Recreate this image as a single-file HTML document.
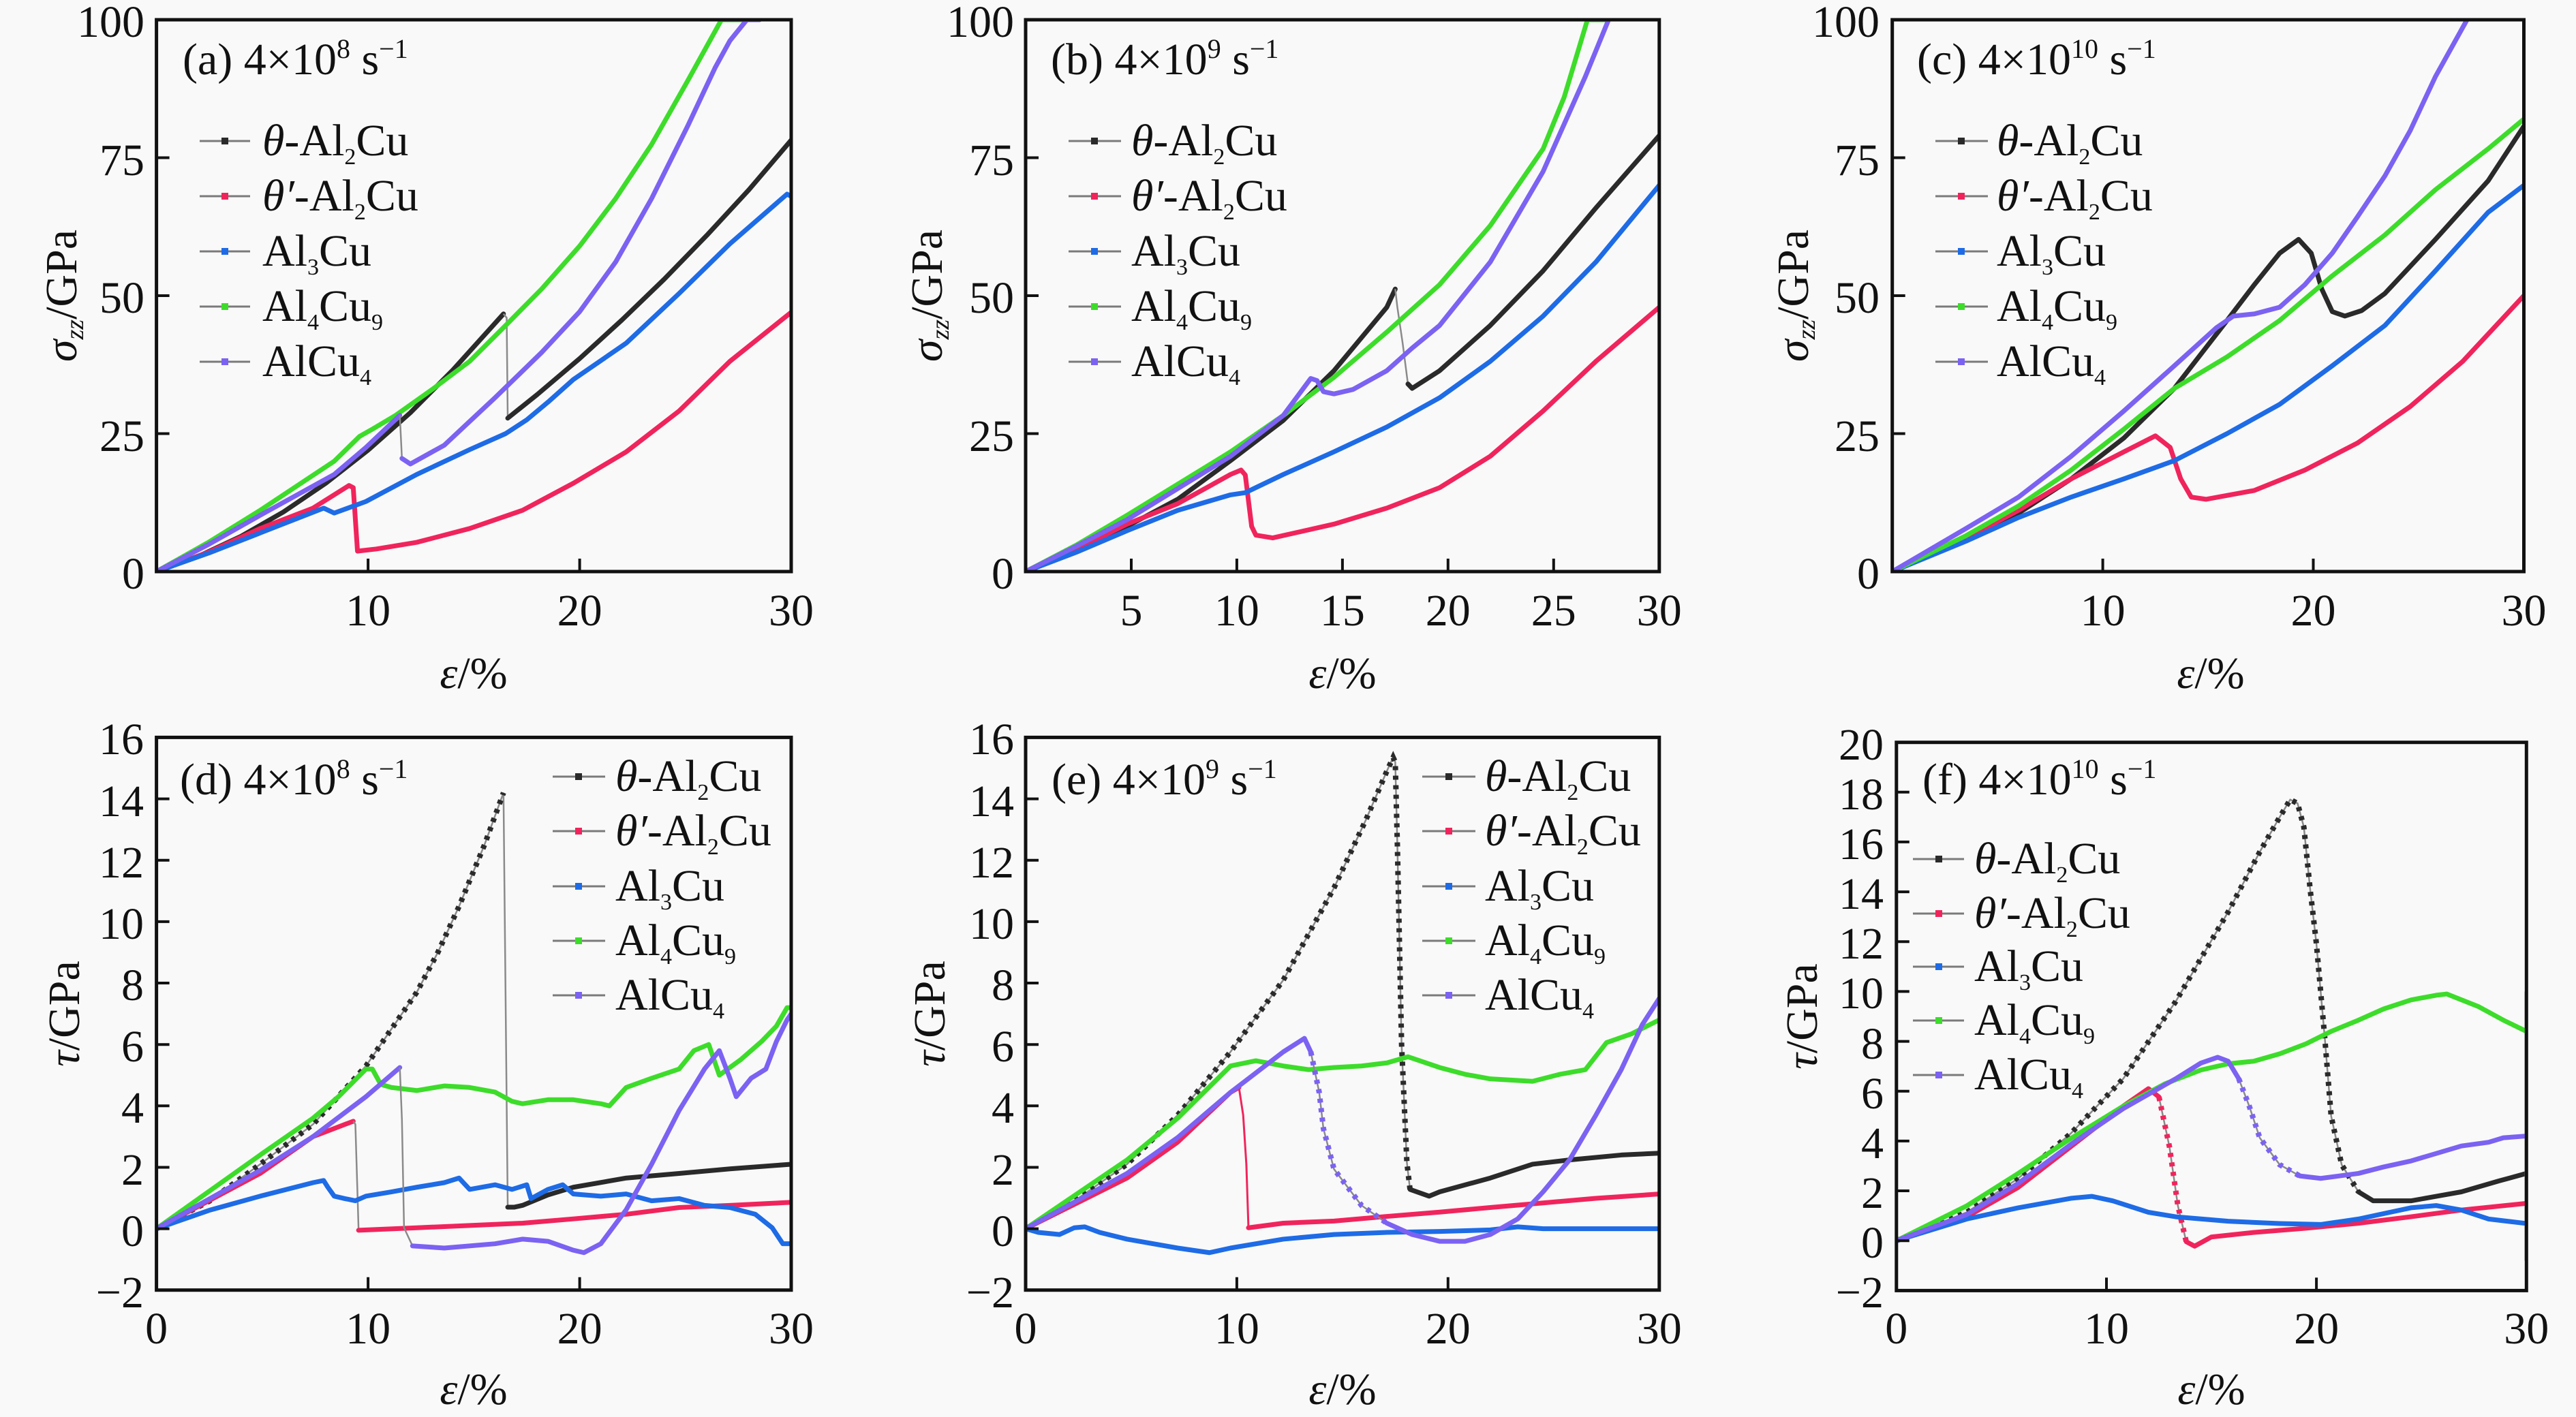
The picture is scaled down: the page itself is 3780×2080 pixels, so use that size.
<!DOCTYPE html>
<html><head><meta charset="utf-8"><style>
html,body{margin:0;padding:0;background:#f9f9f9;overflow:hidden}
svg{display:block}
text{font-family:"Liberation Serif","Times New Roman",serif;fill:#111}
.c{fill:none;stroke-width:7;vector-effect:non-scaling-stroke;stroke-linejoin:round;stroke-linecap:round}
.th{fill:none;stroke:#8a8a8a;stroke-width:2.5;vector-effect:non-scaling-stroke}
.dd{fill:none;stroke-width:8;stroke-dasharray:6 8;vector-effect:non-scaling-stroke}
.k{stroke:#2a2a2a}.r{stroke:#f0245c}.b{stroke:#1e6be6}.g{stroke:#3ddc2a}.p{stroke:#7c62f2}
.fr{fill:none;stroke:#111;stroke-width:5}
.tk{fill:none;stroke:#111;stroke-width:4}
.lg{stroke:#7a7a7a;stroke-width:3}
</style></head><body>
<svg width="3780" height="2080" viewBox="0 0 3780 2080" xmlns="http://www.w3.org/2000/svg">
<rect width="3780" height="2080" fill="#f9f9f9"/>
<defs>
<clipPath id="cA"><rect x="229.6" y="29" width="931.4" height="810"/></clipPath>
<clipPath id="cB"><rect x="1505" y="29" width="929.8" height="810"/></clipPath>
<clipPath id="cC"><rect x="2776.7" y="29" width="926.8" height="810"/></clipPath>
<clipPath id="cD"><rect x="229.6" y="1082.4" width="931.4" height="811.3"/></clipPath>
<clipPath id="cE"><rect x="1505" y="1082.4" width="929.8" height="811.3"/></clipPath>
<clipPath id="cF"><rect x="2782.8" y="1089.7" width="924.5" height="804.7"/></clipPath>
</defs>

<!-- Panel A -->
<g clip-path="url(#cA)"><g transform="translate(229.6,839) scale(31.05,-8.1)">
<polyline class="c k" points="0,0 2,2.8 4,6.4 6,10.8 8,16 10,22 12,28.8 14,36.5 16.4,46.7"/>
<polyline class="th" points="16.4,46.7 16.55,46 16.6,27.8"/>
<polyline class="c k" points="16.6,27.8 18,32.1 20,38.6 22,45.6 24,53 26,60.9 28,69.2 30,78.2"/>
<polyline class="c r" points="0,0 2.5,3.6 4.9,7.8 7.4,11.5 9.1,15.6 9.3,15.2 9.5,3.7 10.4,4.1 12.3,5.3 14.8,7.8 17.3,11.1 19.7,16 22.2,21.7 24.7,29.1 27.1,38.1 30,47"/>
<polyline class="c b" points="0,0 2.5,3.4 4.9,7 7.9,11.5 8.4,10.6 9.9,12.7 12.3,17.6 14.8,22.1 16.5,25 17.5,27.5 18.5,30.7 19.7,34.8 22.2,41.4 24.7,50.4 27.1,59.4 29.8,68.4 30,68"/>
<polyline class="c g" points="0,0 2.5,5.4 4.9,11.1 8.4,20 9.6,24.5 10.2,25.8 11.3,28.3 13.1,33.2 14.8,38.1 16.5,44.6 18.2,51.2 20,59 21.7,67.6 23.4,77.4 25.1,88.9 26.7,100 27.9,100"/>
<polyline class="c p" points="0,0 2.5,5 4.9,10.2 8.4,17.6 9.9,22.5 11.5,28.3"/>
<polyline class="th" points="11.5,28.3 11.6,20.5"/>
<polyline class="c p" points="11.6,20.5 12,19.5 13.6,22.9 16,31.5 18.2,39.7 20,47.1 21.7,56.1 23.4,67.6 25.1,80.7 26.4,91.3 27.1,96.2 27.9,100 28.5,100"/>
</g></g>
<rect class="fr" x="229.6" y="29" width="931.4" height="810"/>
<path class="tk" d="M540.1 839v-19M850.6 839v-19M229.6 636.5h19M229.6 434h19M229.6 231.5h19"/>
<g font-size="66" text-anchor="end">
<text x="212" y="54">100</text><text x="212" y="257">75</text><text x="212" y="459">50</text><text x="212" y="662">25</text><text x="212" y="864">0</text>
</g>
<g font-size="66" text-anchor="middle">
<text x="540.1" y="918">10</text><text x="850.6" y="918">20</text><text x="1161" y="918">30</text>
<text x="695" y="1010"><tspan font-style="italic">ε</tspan>/%</text>
</g>
<text transform="translate(112,434) rotate(-90)" font-size="66" text-anchor="middle"><tspan font-style="italic">σ</tspan><tspan font-size="38" font-style="italic" dy="10">zz</tspan><tspan dy="-10">/GPa</tspan></text>
<text x="268" y="109" font-size="66">(a) 4×10<tspan font-size="40" dy="-24">8</tspan><tspan dy="24"> s</tspan><tspan font-size="40" dy="-24">−1</tspan></text>
<g>
<line class="lg" x1="293" y1="207" x2="367" y2="207"/><rect x="325" y="202" width="10" height="10" fill="#2a2a2a"/>
<line class="lg" x1="293" y1="288" x2="367" y2="288"/><rect x="325" y="283" width="10" height="10" fill="#f0245c"/>
<line class="lg" x1="293" y1="369" x2="367" y2="369"/><rect x="325" y="364" width="10" height="10" fill="#1e6be6"/>
<line class="lg" x1="293" y1="450" x2="367" y2="450"/><rect x="325" y="445" width="10" height="10" fill="#3ddc2a"/>
<line class="lg" x1="293" y1="531" x2="367" y2="531"/><rect x="325" y="526" width="10" height="10" fill="#7c62f2"/>
<g font-size="66">
<text x="385" y="228"><tspan font-style="italic">θ</tspan>-Al<tspan font-size="34" dy="13">2</tspan><tspan dy="-13">Cu</tspan></text>
<text x="385" y="309"><tspan font-style="italic">θ′</tspan>-Al<tspan font-size="34" dy="13">2</tspan><tspan dy="-13">Cu</tspan></text>
<text x="385" y="390">Al<tspan font-size="34" dy="13">3</tspan><tspan dy="-13">Cu</tspan></text>
<text x="385" y="471">Al<tspan font-size="34" dy="13">4</tspan><tspan dy="-13">Cu</tspan><tspan font-size="34" dy="13">9</tspan></text>
<text x="385" y="552">AlCu<tspan font-size="34" dy="13">4</tspan></text>
</g></g>

<!-- Panel B -->
<g clip-path="url(#cB)"><g transform="translate(1505,839) scale(30.993,-8.1)">
<polyline class="c k" points="0,0 2.4,3.8 4.8,8.2 7.2,13.1 9.7,20.1 12.2,27.4 14.6,36.4 17.1,47.9 17.5,51.2"/>
<polyline class="th" points="17.5,51.2 17.6,47.9 17.85,41.4 18.1,34 18.3,33.2"/>
<polyline class="c k" points="18.1,34 18.3,33.2 19.6,36.4 22,44.6 24.5,54.5 27,65.9 30,79"/>
<polyline class="c r" points="0,0 2.4,4 4.8,8.6 7.2,12.3 9.7,17.6 10.2,18.4 10.4,17.5 10.7,8.2 10.9,6.6 11.7,6.1 14.6,8.6 17.1,11.5 19.6,15.2 22,20.9 24.5,29.1 27,38.1 30,47.9"/>
<polyline class="c b" points="0,0 2.4,3.5 4.8,7.4 7.2,11.1 9.7,13.9 10.4,14.3 12.2,17.6 14.6,21.7 17.1,26.2 19.6,31.5 22,38.1 24.5,46.3 27,56.1 30,70"/>
<polyline class="c g" points="0,0 2.4,4.8 4.8,10.2 9.7,21.7 12.2,28.3 14.6,35.2 17.1,43.4 19.6,52 22,62.7 24.5,76.6 25.5,86 26.6,100 27.5,100"/>
<polyline class="c p" points="0,0 2.4,4.6 4.8,9.4 9.7,20.9 12.2,28.3 13.5,35 13.8,34.6 14.1,32.6 14.6,32.2 15.5,33 17.1,36.4 18.3,40.5 19.6,44.6 22,56.1 24.5,72.5 26.5,89.7 27.6,100"/>
</g></g>
<rect class="fr" x="1505" y="29" width="929.8" height="810"/>
<path class="tk" d="M1660 839v-19M1814.9 839v-19M1969.9 839v-19M2124.8 839v-19M2279.8 839v-19M1505 636.5h19M1505 434h19M1505 231.5h19"/>
<g font-size="66" text-anchor="end">
<text x="1488" y="54">100</text><text x="1488" y="257">75</text><text x="1488" y="459">50</text><text x="1488" y="662">25</text><text x="1488" y="864">0</text>
</g>
<g font-size="66" text-anchor="middle">
<text x="1660" y="918">5</text><text x="1814.9" y="918">10</text><text x="1969.9" y="918">15</text><text x="2124.8" y="918">20</text><text x="2279.8" y="918">25</text><text x="2434.8" y="918">30</text>
<text x="1970" y="1010"><tspan font-style="italic">ε</tspan>/%</text>
</g>
<text transform="translate(1382,434) rotate(-90)" font-size="66" text-anchor="middle"><tspan font-style="italic">σ</tspan><tspan font-size="38" font-style="italic" dy="10">zz</tspan><tspan dy="-10">/GPa</tspan></text>
<text x="1542" y="109" font-size="66">(b) 4×10<tspan font-size="40" dy="-24">9</tspan><tspan dy="24"> s</tspan><tspan font-size="40" dy="-24">−1</tspan></text>
<g>
<line class="lg" x1="1568" y1="207" x2="1645" y2="207"/><rect x="1601" y="202" width="10" height="10" fill="#2a2a2a"/>
<line class="lg" x1="1568" y1="288" x2="1645" y2="288"/><rect x="1601" y="283" width="10" height="10" fill="#f0245c"/>
<line class="lg" x1="1568" y1="369" x2="1645" y2="369"/><rect x="1601" y="364" width="10" height="10" fill="#1e6be6"/>
<line class="lg" x1="1568" y1="450" x2="1645" y2="450"/><rect x="1601" y="445" width="10" height="10" fill="#3ddc2a"/>
<line class="lg" x1="1568" y1="531" x2="1645" y2="531"/><rect x="1601" y="526" width="10" height="10" fill="#7c62f2"/>
<g font-size="66">
<text x="1660" y="228"><tspan font-style="italic">θ</tspan>-Al<tspan font-size="34" dy="13">2</tspan><tspan dy="-13">Cu</tspan></text>
<text x="1660" y="309"><tspan font-style="italic">θ′</tspan>-Al<tspan font-size="34" dy="13">2</tspan><tspan dy="-13">Cu</tspan></text>
<text x="1660" y="390">Al<tspan font-size="34" dy="13">3</tspan><tspan dy="-13">Cu</tspan></text>
<text x="1660" y="471">Al<tspan font-size="34" dy="13">4</tspan><tspan dy="-13">Cu</tspan><tspan font-size="34" dy="13">9</tspan></text>
<text x="1660" y="552">AlCu<tspan font-size="34" dy="13">4</tspan></text>
</g></g>

<!-- Panel C -->
<g clip-path="url(#cC)"><g transform="translate(2776.7,839) scale(30.893,-8.1)">
<polyline class="c k" points="0,0 3.5,5.8 6,10.6 8.5,16.8 11,24.2 13.4,33.2 15.9,45.5 17.2,52 18.4,57.7 19.3,60.2 19.9,57.7 20.4,51.2 20.9,47.1 21.5,46.3 22.3,47.3 23.4,50.4 25.8,60.2 28.3,70.8 30,80.7"/>
<polyline class="c r" points="0,0 3.5,6 6,11.1 8.5,16.8 11,21.7 12.5,24.6 13.2,22.5 13.7,16.8 14.2,13.5 14.9,13.1 17.2,14.7 19.6,18.4 22.1,23.3 24.6,29.9 27.1,38.1 30,50"/>
<polyline class="c b" points="0,0 3.5,5.5 6,9.8 8.5,13.5 11,16.8 13.4,20.1 15.9,25 18.4,30.3 20.9,37.3 23.4,44.6 25.8,54.5 28.3,65.1 30,70"/>
<polyline class="c g" points="0,0 3.5,6.5 6,11.9 8.5,18.4 11,25.8 13.4,33.2 15.9,38.9 18.4,45.5 20.9,53.6 23.4,61 25.8,69.2 28.3,76.6 30,82"/>
<polyline class="c p" points="0,0 3.5,7.8 6,13.5 8.5,20.9 11,29.1 13.4,37.3 15.4,44.2 16.2,46.3 17.2,46.7 18.4,47.9 19.6,52 20.9,57.7 22.1,64.3 23.4,71.7 24.6,79.9 25.8,89.7 27.3,100"/>
</g></g>
<rect class="fr" x="2776.7" y="29" width="926.8" height="810"/>
<path class="tk" d="M3085.6 839v-19M3394.5 839v-19M2776.7 636.5h19M2776.7 434h19M2776.7 231.5h19"/>
<g font-size="66" text-anchor="end">
<text x="2758" y="54">100</text><text x="2758" y="257">75</text><text x="2758" y="459">50</text><text x="2758" y="662">25</text><text x="2758" y="864">0</text>
</g>
<g font-size="66" text-anchor="middle">
<text x="3085.6" y="918">10</text><text x="3394.5" y="918">20</text><text x="3703.5" y="918">30</text>
<text x="3244" y="1010"><tspan font-style="italic">ε</tspan>/%</text>
</g>
<text transform="translate(2653,434) rotate(-90)" font-size="66" text-anchor="middle"><tspan font-style="italic">σ</tspan><tspan font-size="38" font-style="italic" dy="10">zz</tspan><tspan dy="-10">/GPa</tspan></text>
<text x="2813" y="109" font-size="66">(c) 4×10<tspan font-size="40" dy="-24">10</tspan><tspan dy="24"> s</tspan><tspan font-size="40" dy="-24">−1</tspan></text>
<g>
<line class="lg" x1="2840" y1="207" x2="2917" y2="207"/><rect x="2873" y="202" width="10" height="10" fill="#2a2a2a"/>
<line class="lg" x1="2840" y1="288" x2="2917" y2="288"/><rect x="2873" y="283" width="10" height="10" fill="#f0245c"/>
<line class="lg" x1="2840" y1="369" x2="2917" y2="369"/><rect x="2873" y="364" width="10" height="10" fill="#1e6be6"/>
<line class="lg" x1="2840" y1="450" x2="2917" y2="450"/><rect x="2873" y="445" width="10" height="10" fill="#3ddc2a"/>
<line class="lg" x1="2840" y1="531" x2="2917" y2="531"/><rect x="2873" y="526" width="10" height="10" fill="#7c62f2"/>
<g font-size="66">
<text x="2930" y="228"><tspan font-style="italic">θ</tspan>-Al<tspan font-size="34" dy="13">2</tspan><tspan dy="-13">Cu</tspan></text>
<text x="2930" y="309"><tspan font-style="italic">θ′</tspan>-Al<tspan font-size="34" dy="13">2</tspan><tspan dy="-13">Cu</tspan></text>
<text x="2930" y="390">Al<tspan font-size="34" dy="13">3</tspan><tspan dy="-13">Cu</tspan></text>
<text x="2930" y="471">Al<tspan font-size="34" dy="13">4</tspan><tspan dy="-13">Cu</tspan><tspan font-size="34" dy="13">9</tspan></text>
<text x="2930" y="552">AlCu<tspan font-size="34" dy="13">4</tspan></text>
</g></g>

<!-- Panel D -->
<g clip-path="url(#cD)"><g transform="translate(229.6,1803.6) scale(31.05,-45.07)">
<polyline class="th" points="0,0 2.5,0.9 4.9,2.1 7.4,3.4 9.9,5.3 12.3,7.7 13.3,9 14.3,10.5 15.5,12.5 16.4,14.2 16.6,0.7"/>
<polyline class="dd k" points="0,0 2.5,0.9 4.9,2.1 7.4,3.4 9.9,5.3 12.3,7.7 13.3,9 14.3,10.5 15.5,12.5 16.4,14.2"/>
<polyline class="c k" points="16.6,0.7 16.9,0.7 17.3,0.76 18.5,1.1 19.7,1.35 22.2,1.65 24.7,1.8 27.1,1.95 30,2.1"/>
<polyline class="c r" points="0,0 4.9,1.8 7.4,3 9.3,3.5"/>
<polyline class="th" points="9.3,3.5 9.4,3.4 9.55,0"/>
<polyline class="c r" points="9.55,-0.05 12.3,0.03 17.3,0.18 19.7,0.32 22.2,0.47 24.7,0.69 27.1,0.76 30,0.86"/>
<polyline class="c b" points="0,0 2.5,0.6 4.9,1.06 7.4,1.5 7.9,1.57 8.1,1.35 8.4,1.06 8.9,0.98 9.4,0.91 9.9,1.06 11.1,1.2 12.3,1.35 13.6,1.5 14.3,1.65 14.8,1.28 16,1.43 16.8,1.28 17.5,1.43 17.7,0.98 18.5,1.28 19.2,1.43 19.7,1.13 21,1.06 22.2,1.13 23.4,0.91 24.7,0.98 25.9,0.76 27.1,0.69 28.3,0.47 29.1,0.03 29.6,-0.49 30,-0.49"/>
<polyline class="c g" points="0,0 4.9,2.4 7.4,3.6 8.6,4.3 9.9,5.2 10.2,5.2 10.6,4.7 11.1,4.6 12.3,4.5 13.6,4.65 14.8,4.6 16,4.45 16.8,4.15 17.3,4.07 18.5,4.2 19.7,4.2 21,4.07 21.4,4 22.2,4.6 23.4,4.9 24.7,5.2 25.4,5.8 26.1,6 26.6,5 27.6,5.5 28.6,6.1 29.3,6.6 29.8,7.2 30,7.2"/>
<polyline class="c p" points="0,0 4.9,1.9 7.4,3 9.9,4.3 11.5,5.25"/>
<polyline class="th" points="11.5,5.25 11.6,3.56 11.7,0.03 12.1,-0.56"/>
<polyline class="c p" points="12.1,-0.56 13.6,-0.63 16,-0.49 17.3,-0.34 18.5,-0.41 19.7,-0.7 20.2,-0.78 21,-0.49 22.2,0.62 23.4,2.1 24.7,3.85 25.9,5.2 26.6,5.8 27.1,4.9 27.4,4.3 28.1,4.9 28.8,5.2 29.3,6.1 29.8,6.8 30,7"/>
</g></g>
<rect class="fr" x="229.6" y="1082.4" width="931.4" height="811.3"/>
<path class="tk" d="M540.1 1893.7v-19M850.6 1893.7v-19M229.6 1172.6h19M229.6 1262.8h19M229.6 1352.9h19M229.6 1443h19M229.6 1533.2h19M229.6 1623.3h19M229.6 1713.5h19M229.6 1803.6h19"/>
<g font-size="66" text-anchor="end">
<text x="211" y="1107">16</text><text x="211" y="1198">14</text><text x="211" y="1288">12</text><text x="211" y="1378">10</text><text x="211" y="1468">8</text><text x="211" y="1558">6</text><text x="211" y="1648">4</text><text x="211" y="1739">2</text><text x="211" y="1829">0</text><text x="211" y="1919">−2</text>
</g>
<g font-size="66" text-anchor="middle">
<text x="229.6" y="1972">0</text><text x="540.1" y="1972">10</text><text x="850.6" y="1972">20</text><text x="1161" y="1972">30</text>
<text x="695" y="2061"><tspan font-style="italic">ε</tspan>/%</text>
</g>
<text transform="translate(116,1488) rotate(-90)" font-size="66" text-anchor="middle"><tspan font-style="italic">τ</tspan>/GPa</text>
<text x="264" y="1166" font-size="66">(d) 4×10<tspan font-size="40" dy="-24">8</tspan><tspan dy="24"> s</tspan><tspan font-size="40" dy="-24">−1</tspan></text>
<g>
<line class="lg" x1="811" y1="1140" x2="888" y2="1140"/><rect x="844" y="1135" width="10" height="10" fill="#2a2a2a"/>
<line class="lg" x1="811" y1="1220" x2="888" y2="1220"/><rect x="844" y="1215" width="10" height="10" fill="#f0245c"/>
<line class="lg" x1="811" y1="1301" x2="888" y2="1301"/><rect x="844" y="1296" width="10" height="10" fill="#1e6be6"/>
<line class="lg" x1="811" y1="1381" x2="888" y2="1381"/><rect x="844" y="1376" width="10" height="10" fill="#3ddc2a"/>
<line class="lg" x1="811" y1="1461" x2="888" y2="1461"/><rect x="844" y="1456" width="10" height="10" fill="#7c62f2"/>
<g font-size="66">
<text x="903" y="1161"><tspan font-style="italic">θ</tspan>-Al<tspan font-size="34" dy="13">2</tspan><tspan dy="-13">Cu</tspan></text>
<text x="903" y="1241"><tspan font-style="italic">θ′</tspan>-Al<tspan font-size="34" dy="13">2</tspan><tspan dy="-13">Cu</tspan></text>
<text x="903" y="1322">Al<tspan font-size="34" dy="13">3</tspan><tspan dy="-13">Cu</tspan></text>
<text x="903" y="1402">Al<tspan font-size="34" dy="13">4</tspan><tspan dy="-13">Cu</tspan><tspan font-size="34" dy="13">9</tspan></text>
<text x="903" y="1482">AlCu<tspan font-size="34" dy="13">4</tspan></text>
</g></g>

<!-- Panel E -->
<g clip-path="url(#cE)"><g transform="translate(1505,1803.6) scale(30.993,-45.07)">
<polyline class="th" points="0,0 2.3,0.9 4.8,2.1 7.2,3.7 9.7,5.76 12.2,8.1 14.6,11.1 16.1,13.3 17.1,14.9 17.4,15.35 17.5,15.2 17.6,12.5 17.8,6 18.05,2.16 18.2,1.28"/>
<polyline class="dd k" points="0,0 2.3,0.9 4.8,2.1 7.2,3.7 9.7,5.76 12.2,8.1 14.6,11.1 16.1,13.3 17.1,14.9 17.4,15.35 17.5,15.2 17.6,12.5 17.8,6 18.05,2.16 18.2,1.28"/>
<polyline class="c k" points="18.2,1.28 19.1,1.06 19.6,1.2 22,1.65 24,2.1 25.75,2.24 28.2,2.4 30,2.46"/>
<polyline class="c r" points="0,0 4.8,1.65 7.2,2.82 9.7,4.44 10.1,4.6"/>
<polyline fill="none" stroke="#f0245c" stroke-width="3" vector-effect="non-scaling-stroke" points="10.1,4.6 10.3,3.7 10.45,2.1 10.55,0.03"/>
<polyline class="c r" points="10.55,0.03 12.2,0.18 14.6,0.25 17.1,0.4 19.6,0.54 22,0.69 24.5,0.84 27,0.99 30,1.13"/>
<polyline class="c b" points="0,0 0.6,-0.12 1.6,-0.19 2.3,0.03 2.8,0.06 3.5,-0.12 4.8,-0.34 7.2,-0.63 8.7,-0.78 9.7,-0.63 12.2,-0.34 14.6,-0.19 17.1,-0.12 19.6,-0.09 22,-0.04 23.3,0.06 24.5,0 30,0"/>
<polyline class="c g" points="0,0 4.8,2.24 7.2,3.6 9.7,5.3 10.9,5.47 12.2,5.3 13.4,5.18 14.6,5.25 15.9,5.3 17.1,5.4 18.1,5.6 19.6,5.25 20.8,5.03 22,4.88 24,4.8 25.3,5.03 26.5,5.18 27.5,6.06 28.7,6.35 30,6.8"/>
<polyline class="c p" points="0,0 4.8,1.8 7.2,2.97 9.7,4.44 12.2,5.76 13.2,6.2 13.5,5.76"/>
<polyline class="th" points="13.5,5.76 13.9,4.44 14.1,3.26 14.6,1.94 15.9,0.76 17.1,0.18"/>
<polyline class="dd p" points="13.5,5.76 13.9,4.44 14.1,3.26 14.6,1.94 15.9,0.76 17.1,0.18"/>
<polyline class="c p" points="17.1,0.18 18.3,-0.19 19.6,-0.41 20.8,-0.41 22,-0.19 23.3,0.32 24.5,1.2 25.75,2.24 27,3.7 28.2,5.18 29.2,6.65 30,7.5"/>
</g></g>
<rect class="fr" x="1505" y="1082.4" width="929.8" height="811.3"/>
<path class="tk" d="M1814.9 1893.7v-19M2124.8 1893.7v-19M1505 1172.6h19M1505 1262.8h19M1505 1352.9h19M1505 1443h19M1505 1533.2h19M1505 1623.3h19M1505 1713.5h19M1505 1803.6h19"/>
<g font-size="66" text-anchor="end">
<text x="1488" y="1107">16</text><text x="1488" y="1198">14</text><text x="1488" y="1288">12</text><text x="1488" y="1378">10</text><text x="1488" y="1468">8</text><text x="1488" y="1558">6</text><text x="1488" y="1648">4</text><text x="1488" y="1739">2</text><text x="1488" y="1829">0</text><text x="1488" y="1919">−2</text>
</g>
<g font-size="66" text-anchor="middle">
<text x="1505" y="1972">0</text><text x="1814.9" y="1972">10</text><text x="2124.8" y="1972">20</text><text x="2434.8" y="1972">30</text>
<text x="1970" y="2061"><tspan font-style="italic">ε</tspan>/%</text>
</g>
<text transform="translate(1386,1488) rotate(-90)" font-size="66" text-anchor="middle"><tspan font-style="italic">τ</tspan>/GPa</text>
<text x="1543" y="1166" font-size="66">(e) 4×10<tspan font-size="40" dy="-24">9</tspan><tspan dy="24"> s</tspan><tspan font-size="40" dy="-24">−1</tspan></text>
<g>
<line class="lg" x1="2087" y1="1140" x2="2165" y2="1140"/><rect x="2121" y="1135" width="10" height="10" fill="#2a2a2a"/>
<line class="lg" x1="2087" y1="1220" x2="2165" y2="1220"/><rect x="2121" y="1215" width="10" height="10" fill="#f0245c"/>
<line class="lg" x1="2087" y1="1301" x2="2165" y2="1301"/><rect x="2121" y="1296" width="10" height="10" fill="#1e6be6"/>
<line class="lg" x1="2087" y1="1381" x2="2165" y2="1381"/><rect x="2121" y="1376" width="10" height="10" fill="#3ddc2a"/>
<line class="lg" x1="2087" y1="1461" x2="2165" y2="1461"/><rect x="2121" y="1456" width="10" height="10" fill="#7c62f2"/>
<g font-size="66">
<text x="2179" y="1161"><tspan font-style="italic">θ</tspan>-Al<tspan font-size="34" dy="13">2</tspan><tspan dy="-13">Cu</tspan></text>
<text x="2179" y="1241"><tspan font-style="italic">θ′</tspan>-Al<tspan font-size="34" dy="13">2</tspan><tspan dy="-13">Cu</tspan></text>
<text x="2179" y="1322">Al<tspan font-size="34" dy="13">3</tspan><tspan dy="-13">Cu</tspan></text>
<text x="2179" y="1402">Al<tspan font-size="34" dy="13">4</tspan><tspan dy="-13">Cu</tspan><tspan font-size="34" dy="13">9</tspan></text>
<text x="2179" y="1482">AlCu<tspan font-size="34" dy="13">4</tspan></text>
</g></g>

<!-- Panel F -->
<g clip-path="url(#cF)"><g transform="translate(2782.8,1821.2) scale(30.817,-36.58)">
<polyline class="th" points="0,0 3.35,1.14 5.8,2.5 8.3,4.3 10.8,6.5 13.3,9.6 15.8,13.2 17.3,15.6 18.25,17 18.75,17.7 19.1,17.55 19.4,16.6 19.7,14.1 20,11.9 20.4,8.1 20.7,5 21.2,3.05 22,1.96"/>
<polyline class="dd k" points="0,0 3.35,1.14 5.8,2.5 8.3,4.3 10.8,6.5 13.3,9.6 15.8,13.2 17.3,15.6 18.25,17 18.75,17.7 19.1,17.55 19.4,16.6 19.7,14.1 20,11.9 20.4,8.1 20.7,5 21.2,3.05 22,1.96"/>
<polyline class="c k" points="22,1.96 22.7,1.6 24.5,1.6 25.7,1.78 26.9,1.96 28.7,2.4 30,2.7"/>
<polyline class="th" points="29.95,10 29.95,-0.8"/>
<polyline class="c r" points="0,0 3.35,0.96 5.8,2.14 8.3,3.77 10.8,5.4 12,6.1 12.5,5.77"/>
<polyline class="th" points="12.5,5.77 13,3.77 13.4,1.41 13.8,-0.04"/>
<polyline class="dd r" points="12.5,5.77 13,3.77 13.4,1.41 13.8,-0.04"/>
<polyline class="c r" points="13.8,-0.04 14.2,-0.22 15,0.15 17,0.33 19.5,0.5 22,0.7 24.5,0.96 26.9,1.23 30,1.5"/>
<polyline class="c b" points="0,0 3.35,0.87 5.8,1.32 8.3,1.7 9.3,1.78 10.3,1.6 12,1.14 13.3,0.96 15.8,0.78 18.25,0.69 20.2,0.65 22,0.87 24.5,1.32 25.7,1.41 26.9,1.23 28.2,0.87 30,0.69"/>
<polyline class="c g" points="0,0 3.35,1.4 5.8,2.7 8.3,4.1 10.8,5.4 12.8,6.3 14.5,6.85 15.8,7.1 17,7.2 18.25,7.5 19.5,7.9 20.7,8.4 22,8.85 23.2,9.3 24.5,9.66 25.7,9.85 26.2,9.9 27.7,9.4 28.9,8.85 30,8.4"/>
<polyline class="c p" points="0,0 3.35,1.05 5.8,2.3 8.3,3.86 10.8,5.3 13.3,6.5 14.5,7.13 15.3,7.36 15.8,7.2 16.3,6.5"/>
<polyline class="th" points="16.3,6.5 16.8,5.4 17.3,4.13 18.25,3.05 19.2,2.6"/>
<polyline class="dd p" points="16.3,6.5 16.8,5.4 17.3,4.13 18.25,3.05 19.2,2.6"/>
<polyline class="c p" points="19.2,2.6 20.2,2.5 22,2.7 23.2,2.96 24.5,3.2 25.7,3.5 26.9,3.8 28.2,3.95 28.9,4.13 30,4.2"/>
</g></g>
<rect class="fr" x="2782.8" y="1089.7" width="924.5" height="804.7"/>
<path class="tk" d="M3091 1894.4v-19M3399.1 1894.4v-19M2782.8 1162.8h19M2782.8 1235.9h19M2782.8 1309.1h19M2782.8 1382.2h19M2782.8 1455.4h19M2782.8 1528.6h19M2782.8 1601.7h19M2782.8 1674.9h19M2782.8 1748h19M2782.8 1821.2h19"/>
<g font-size="66" text-anchor="end">
<text x="2764" y="1115">20</text><text x="2764" y="1188">18</text><text x="2764" y="1261">16</text><text x="2764" y="1334">14</text><text x="2764" y="1407">12</text><text x="2764" y="1480">10</text><text x="2764" y="1554">8</text><text x="2764" y="1627">6</text><text x="2764" y="1700">4</text><text x="2764" y="1773">2</text><text x="2764" y="1846">0</text><text x="2764" y="1919">−2</text>
</g>
<g font-size="66" text-anchor="middle">
<text x="2782.8" y="1972">0</text><text x="3091" y="1972">10</text><text x="3399.1" y="1972">20</text><text x="3707.3" y="1972">30</text>
<text x="3245" y="2061"><tspan font-style="italic">ε</tspan>/%</text>
</g>
<text transform="translate(2666,1492) rotate(-90)" font-size="66" text-anchor="middle"><tspan font-style="italic">τ</tspan>/GPa</text>
<text x="2821" y="1166" font-size="66">(f) 4×10<tspan font-size="40" dy="-24">10</tspan><tspan dy="24"> s</tspan><tspan font-size="40" dy="-24">−1</tspan></text>
<g>
<line class="lg" x1="2807" y1="1261" x2="2882" y2="1261"/><rect x="2840" y="1256" width="10" height="10" fill="#2a2a2a"/>
<line class="lg" x1="2807" y1="1341" x2="2882" y2="1341"/><rect x="2840" y="1336" width="10" height="10" fill="#f0245c"/>
<line class="lg" x1="2807" y1="1419" x2="2882" y2="1419"/><rect x="2840" y="1414" width="10" height="10" fill="#1e6be6"/>
<line class="lg" x1="2807" y1="1498" x2="2882" y2="1498"/><rect x="2840" y="1493" width="10" height="10" fill="#3ddc2a"/>
<line class="lg" x1="2807" y1="1578" x2="2882" y2="1578"/><rect x="2840" y="1573" width="10" height="10" fill="#7c62f2"/>
<g font-size="66">
<text x="2897" y="1282"><tspan font-style="italic">θ</tspan>-Al<tspan font-size="34" dy="13">2</tspan><tspan dy="-13">Cu</tspan></text>
<text x="2897" y="1362"><tspan font-style="italic">θ′</tspan>-Al<tspan font-size="34" dy="13">2</tspan><tspan dy="-13">Cu</tspan></text>
<text x="2897" y="1440">Al<tspan font-size="34" dy="13">3</tspan><tspan dy="-13">Cu</tspan></text>
<text x="2897" y="1519">Al<tspan font-size="34" dy="13">4</tspan><tspan dy="-13">Cu</tspan><tspan font-size="34" dy="13">9</tspan></text>
<text x="2897" y="1599">AlCu<tspan font-size="34" dy="13">4</tspan></text>
</g></g>
</svg>
</body></html>
